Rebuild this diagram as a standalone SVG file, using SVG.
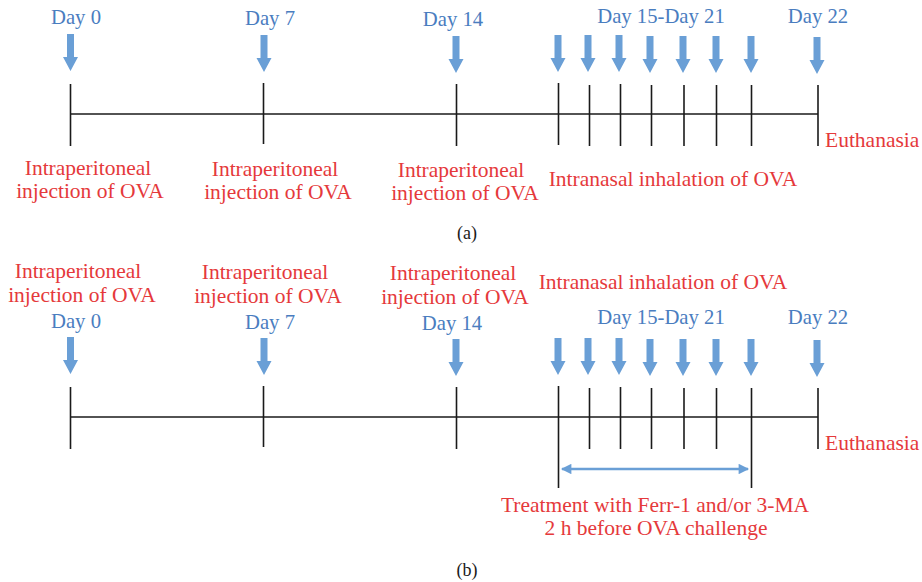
<svg xmlns="http://www.w3.org/2000/svg" width="922" height="582" viewBox="0 0 922 582">
<defs>
<style>
.ln{stroke:#1a1a1a;stroke-width:1.6;fill:none}
.ar{fill:#6a9fd6}
.bl{font-family:"Liberation Serif",serif;font-size:20.7px;fill:#4a7dbf;text-anchor:middle}
.rd{font-family:"Liberation Serif",serif;font-size:21.5px;fill:#e5393b;text-anchor:middle}
.cap{font-family:"Liberation Serif",serif;font-size:18px;fill:#1a1a1a;text-anchor:middle}
</style>
<path id="arw" d="M-3.5,0 h7 v23 h4 l-7.5,14 l-7.5,-14 h4 z"/>
<marker id="mh" viewBox="0 0 10 10" refX="9" refY="5" markerWidth="4.5" markerHeight="4" orient="auto-start-reverse" markerUnits="strokeWidth">
<path d="M0,0 L10,5 L0,10 z" fill="#6a9fd6"/>
</marker>
</defs>
<rect width="922" height="582" fill="#fff"/>

<!-- Panel (a) -->
<g id="connectors-a">
<line class="ln" x1="70" y1="114" x2="818" y2="114"/>
<line class="ln" x1="70.5" y1="84" x2="70.5" y2="146"/>
<line class="ln" x1="263.5" y1="83" x2="263.5" y2="144"/>
<line class="ln" x1="456.5" y1="84" x2="456.5" y2="146"/>
<line class="ln" x1="558.5" y1="83" x2="558.5" y2="145"/>
<line class="ln" x1="589.5" y1="85" x2="589.5" y2="146"/>
<line class="ln" x1="620.5" y1="84" x2="620.5" y2="146"/>
<line class="ln" x1="651.5" y1="85" x2="651.5" y2="146"/>
<line class="ln" x1="684" y1="85" x2="684" y2="146"/>
<line class="ln" x1="716.5" y1="85" x2="716.5" y2="146"/>
<line class="ln" x1="751.5" y1="85" x2="751.5" y2="146"/>
<line class="ln" x1="818" y1="85" x2="818" y2="146"/>
</g>
<g id="arrows-a">
<use href="#arw" class="ar" x="70.5" y="34"/>
<use href="#arw" class="ar" x="264" y="35"/>
<use href="#arw" class="ar" x="456" y="36"/>
<use href="#arw" class="ar" x="558" y="35"/>
<use href="#arw" class="ar" x="588" y="35"/>
<use href="#arw" class="ar" x="619" y="35"/>
<use href="#arw" class="ar" x="650" y="36"/>
<use href="#arw" class="ar" x="683" y="36"/>
<use href="#arw" class="ar" x="716" y="36"/>
<use href="#arw" class="ar" x="751" y="36"/>
<use href="#arw" class="ar" x="817" y="37"/>
</g>
<g id="labels-a">
<text class="bl" x="76" y="24">Day 0</text>
<text class="bl" x="270" y="25">Day 7</text>
<text class="bl" x="453" y="26">Day 14</text>
<text class="bl" x="661" y="23">Day 15-Day 21</text>
<text class="bl" x="818" y="23">Day 22</text>
<text class="rd" x="88" y="175">Intraperitoneal</text>
<text class="rd" x="90" y="198">injection of OVA</text>
<text class="rd" x="275" y="176">Intraperitoneal</text>
<text class="rd" x="278" y="199">injection of OVA</text>
<text class="rd" x="461" y="177">Intraperitoneal</text>
<text class="rd" x="465" y="200">injection of OVA</text>
<text class="rd" x="673" y="186">Intranasal inhalation of OVA</text>
<text class="rd" x="825" y="147" style="text-anchor:start">Euthanasia</text>
<text class="cap" x="467" y="239">(a)</text>
</g>

<!-- Panel (b) -->
<g id="connectors-b">
<line class="ln" x1="70" y1="417" x2="818" y2="417"/>
<line class="ln" x1="70.5" y1="387" x2="70.5" y2="449"/>
<line class="ln" x1="263.5" y1="386" x2="263.5" y2="447"/>
<line class="ln" x1="456.5" y1="387" x2="456.5" y2="449"/>
<line class="ln" x1="558.5" y1="386" x2="558.5" y2="488"/>
<line class="ln" x1="589.5" y1="388" x2="589.5" y2="449"/>
<line class="ln" x1="620.5" y1="387" x2="620.5" y2="449"/>
<line class="ln" x1="651.5" y1="388" x2="651.5" y2="449"/>
<line class="ln" x1="684" y1="388" x2="684" y2="449"/>
<line class="ln" x1="716.5" y1="388" x2="716.5" y2="449"/>
<line class="ln" x1="751.5" y1="388" x2="751.5" y2="488"/>
<line class="ln" x1="818" y1="388" x2="818" y2="449"/>
<line x1="562" y1="469" x2="748" y2="469" stroke="#6a9fd6" stroke-width="2.6" marker-start="url(#mh)" marker-end="url(#mh)"/>
</g>
<g id="arrows-b">
<use href="#arw" class="ar" x="70.5" y="337"/>
<use href="#arw" class="ar" x="264" y="338"/>
<use href="#arw" class="ar" x="456" y="339"/>
<use href="#arw" class="ar" x="558" y="338"/>
<use href="#arw" class="ar" x="588" y="338"/>
<use href="#arw" class="ar" x="619" y="338"/>
<use href="#arw" class="ar" x="650" y="339"/>
<use href="#arw" class="ar" x="683" y="339"/>
<use href="#arw" class="ar" x="716" y="339"/>
<use href="#arw" class="ar" x="751" y="339"/>
<use href="#arw" class="ar" x="817" y="340"/>
</g>
<g id="labels-b">
<text class="rd" x="78" y="278">Intraperitoneal</text>
<text class="rd" x="82" y="302">injection of OVA</text>
<text class="rd" x="265" y="279">Intraperitoneal</text>
<text class="rd" x="268" y="303">injection of OVA</text>
<text class="rd" x="453" y="280">Intraperitoneal</text>
<text class="rd" x="455" y="304">injection of OVA</text>
<text class="rd" x="663" y="289">Intranasal inhalation of OVA</text>
<text class="bl" x="76" y="328">Day 0</text>
<text class="bl" x="270" y="329">Day 7</text>
<text class="bl" x="452" y="330">Day 14</text>
<text class="bl" x="661" y="324">Day 15-Day 21</text>
<text class="bl" x="818" y="324">Day 22</text>
<text class="rd" x="825" y="450" style="text-anchor:start">Euthanasia</text>
<text class="rd" x="655" y="512">Treatment with Ferr-1 and/or 3-MA</text>
<text class="rd" x="656" y="535">2 h before OVA challenge</text>
<text class="cap" x="467" y="576">(b)</text>
</g>
</svg>
